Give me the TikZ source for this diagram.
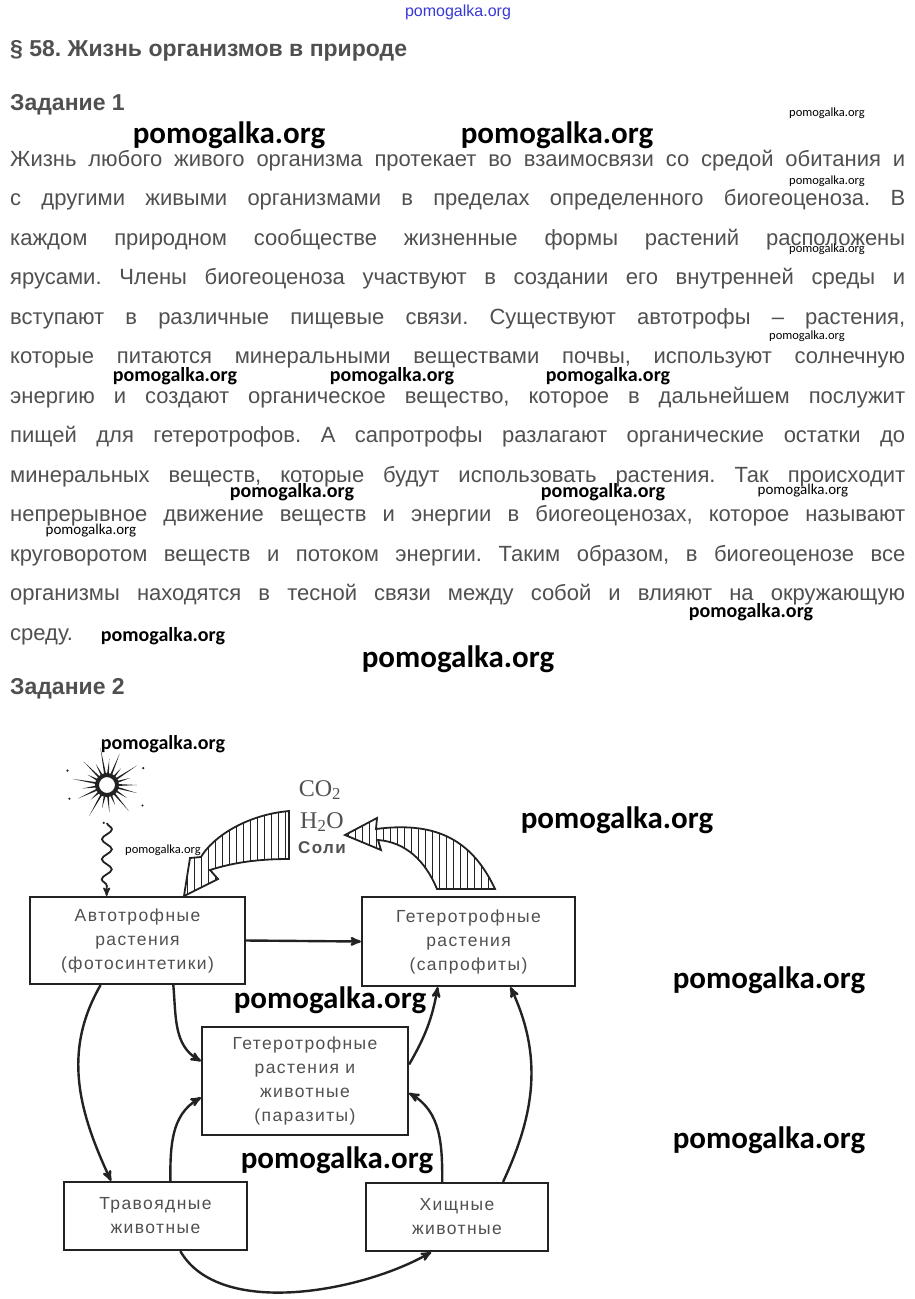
\documentclass[tikz,border=0pt]{standalone}
\usepackage{fontspec}
\setmainfont{Liberation Sans}
\newfontfamily\wmfont{Carlito}
\newfontfamily\boxfont[LetterSpace=8]{Liberation Sans}
\newfontfamily\chemfont{Liberation Serif}
\usetikzlibrary{arrows,calc,decorations.pathmorphing}
\definecolor{ink}{HTML}{222222}
\definecolor{textgray}{HTML}{505050}
\definecolor{boxgray}{HTML}{505050}
\definecolor{wmblue}{HTML}{3838D8}
\frenchspacing

\begin{document}
\begin{tikzpicture}[x=1pt,y=1pt]
\tikzset{head/.style = {anchor=base west, inner sep=0, text=textgray, font=\bfseries\fontsize{23}{26}\selectfont}}
\tikzset{bodyline/.style = {anchor=base west, inner sep=0, text=textgray, font=\fontsize{22}{26}\selectfont}}
\tikzset{wmbig/.style = {inner sep=0, font=\wmfont\bfseries\fontsize{31}{34}\selectfont}}
\tikzset{wmmid/.style = {inner sep=0, font=\wmfont\bfseries\fontsize{20}{22}\selectfont}}
\tikzset{wmsmall/.style = {inner sep=0, font=\wmfont\fontsize{12.5}{14}\selectfont}}
\tikzset{wmtiny/.style = {inner sep=0, font=\wmfont\fontsize{15}{17}\selectfont}}
\tikzset{box/.style = {shape=rectangle, draw=ink, line width=2.2pt, align=center, text=boxgray, font=\boxfont\fontsize{17.5}{24}\selectfont}}
\tikzset{edge/.style = {->, > = stealth', draw=ink, line width=2.4pt}}
\tikzset{hatch/.style = {draw=ink, line width=1.8pt, fill=white,
  path picture={\foreach \x in {180,187,...,500} \draw[ink, line width=0.8pt] (\x,-770) -- (\x,-900);}}}
\tikzset{chem/.style = {inner sep=0, text=boxgray, font=\chemfont\fontsize{24}{26}\selectfont}}

\useasboundingbox[fill=white] (0,0) rectangle (914,-1299);

% page text
\node[inner sep=0, text=wmblue, font=\fontsize{16}{18}\selectfont] (wm0) at (458,-12) {pomogalka.org};
\node[head] (title) at (10,-56) {§ 58. Жизнь организмов в природе};
\node[head] (task1) at (10,-110) {Задание 1};
\foreach \t [count=\i] in {
  {Жизнь любого живого организма протекает во взаимосвязи со средой обитания и},
  {с другими живыми организмами в пределах определенного биогеоценоза. В},
  {каждом природном сообществе жизненные формы растений расположены},
  {ярусами. Члены биогеоценоза участвуют в создании его внутренней среды и},
  {вступают в различные пищевые связи. Существуют автотрофы – растения,},
  {которые питаются минеральными веществами почвы, используют солнечную},
  {энергию и создают органическое вещество, которое в дальнейшем послужит},
  {пищей для гетеротрофов. А сапротрофы разлагают органические остатки до},
  {минеральных веществ, которые будут использовать растения. Так происходит},
  {непрерывное движение веществ и энергии в биогеоценозах, которое называют},
  {круговоротом веществ и потоком энергии. Таким образом, в биогеоценозе все},
  {организмы находятся в тесной связи между собой и влияют на окружающую}}
  \node[bodyline] (line\i) at (10,{-166-39.5*(\i-1)}) {\makebox[895pt][s]{\t}};
\node[bodyline] (line13) at (10,-640) {среду.};
\node[head] (task2) at (10,-694) {Задание 2};

% watermarks
\node[wmsmall] (wm1) at (827,-113) {pomogalka.org};
\node[wmbig] (wm2) at (229,-135) {pomogalka.org};
\node[wmbig] (wm3) at (557,-135) {pomogalka.org};
\node[wmsmall] (wm4) at (827,-181) {pomogalka.org};
\node[wmsmall] (wm5) at (827,-249) {pomogalka.org};
\node[wmsmall] (wm6) at (807,-336) {pomogalka.org};
\node[wmmid] (wm7) at (175,-376) {pomogalka.org};
\node[wmmid] (wm8) at (392,-376) {pomogalka.org};
\node[wmmid] (wm9) at (608,-376) {pomogalka.org};
\node[wmmid] (wm10) at (292,-492) {pomogalka.org};
\node[wmmid] (wm11) at (603,-492) {pomogalka.org};
\node[wmtiny] (wm12) at (803,-491) {pomogalka.org};
\node[wmtiny] (wm13) at (91,-531) {pomogalka.org};
\node[wmmid] (wm14) at (751,-612) {pomogalka.org};
\node[wmmid] (wm15) at (163,-636) {pomogalka.org};
\node[wmbig] (wm16) at (458,-659) {pomogalka.org};
\node[wmmid] (wm17) at (163,-744) {pomogalka.org};
\node[wmsmall] (wm18) at (163,-850) {pomogalka.org};
\node[wmbig] (wm19) at (617,-820) {pomogalka.org};

% sun
\foreach \a/\l in {0/30,17/24,33/36,50/22,68/34,85/26,100/38,118/24,135/33,152/22,170/35,188/25,
  205/32,222/22,240/36,258/24,275/28,292/22,310/34,327/24,345/31}
  \fill[ink] ($(107,-785)+(\a-5:11)$) -- ($(107,-785)+(\a:\l)$) -- ($(107,-785)+(\a+5:11)$) -- cycle;
\foreach \a/\l in {25/40,95/44,160/42,200/40,265/38,330/41}
  \fill[ink] ($(107,-785)+(\a:\l)$) circle (1.2pt);
\node[circle, draw=ink, fill=white, line width=4pt, minimum size=20pt, inner sep=0] (sun) at (107,-785) {};
\coordinate (beam) at (107,-823);

% boxes
\node[box, minimum width=215pt, minimum height=87pt] (auto) at (137.5,-940.5) {Автотрофные\\растения\\(фотосинтетики)};
\node[box, minimum width=213pt, minimum height=89pt] (sapro) at (468.5,-941.5) {Гетеротрофные\\растения\\(сапрофиты)};
\node[box, minimum width=206pt, minimum height=108pt] (para) at (305,-1081) {Гетеротрофные\\растения и\\животные\\(паразиты)};
\node[box, minimum width=183pt, minimum height=68pt] (herb) at (155.5,-1216) {Травоядные\\животные};
\node[box, minimum width=182pt, minimum height=68pt] (pred) at (457,-1217) {Хищные\\животные};

% hatched flows
\draw[hatch] (289,-811) .. controls (245,-815) and (212,-838) .. (201,-857) -- (190,-858) -- (184,-896)
  -- (218,-879) -- (210,-870) .. controls (235,-862) and (260,-859) .. (289,-859) -- cycle;
\draw[hatch] (495,-889) .. controls (470,-835) and (430,-822) .. (376,-829) -- (377,-818) -- (345,-835)
  -- (381,-850) -- (378,-840) .. controls (405,-842) and (425,-860) .. (437,-889) -- cycle;
\node[chem] (co) at (320,-790) {CO\textsubscript{2}};
\node[chem] (water) at (322,-822) {H\textsubscript{2}O};
\node[inner sep=0, text=boxgray, font=\boxfont\bfseries\fontsize{17}{20}\selectfont] (salt) at (322,-848) {Соли};

% connectors
\draw[edge, line width=1.8pt, decorate, decoration={snake, amplitude=5pt, segment length=20pt, post length=10pt}]
  (beam) -- ($(auto.north west)!.358!(auto.north east)$);
\draw[edge] (auto.east) -- (sapro.west);
\draw[edge] ($(auto.south west)!.33!(auto.south east)$) to[out=-120,in=115] ($(herb.north west)!.26!(herb.north east)$);
\draw[edge] ($(auto.south west)!.665!(auto.south east)$) to[out=-85,in=150] ($(para.north west)!.32!(para.south west)$);
\draw[edge] ($(herb.north west)!.58!(herb.north east)$) to[out=90,in=-150] ($(para.north west)!.65!(para.south west)$);
\draw[edge] ($(pred.north west)!.42!(pred.north east)$) to[out=90,in=-30] ($(para.north east)!.61!(para.south east)$);
\draw[edge] ($(para.north east)!.35!(para.south east)$) to[out=60,in=-100] ($(sapro.south west)!.357!(sapro.south east)$);
\draw[edge] ($(pred.north west)!.75!(pred.north east)$) to[out=65,in=-65] ($(sapro.south west)!.695!(sapro.south east)$);
\draw[edge] ($(herb.south west)!.634!(herb.south east)$) to[out=-60,in=-150,looseness=.8] ($(pred.south west)!.36!(pred.south east)$);

% watermarks over the diagram
\node[wmbig] (wm20) at (330,-1000) {pomogalka.org};
\node[wmbig] (wm21) at (769,-980) {pomogalka.org};
\node[wmbig] (wm22) at (769,-1140) {pomogalka.org};
\node[wmbig] (wm23) at (337,-1160) {pomogalka.org};
\end{tikzpicture}
\end{document}
